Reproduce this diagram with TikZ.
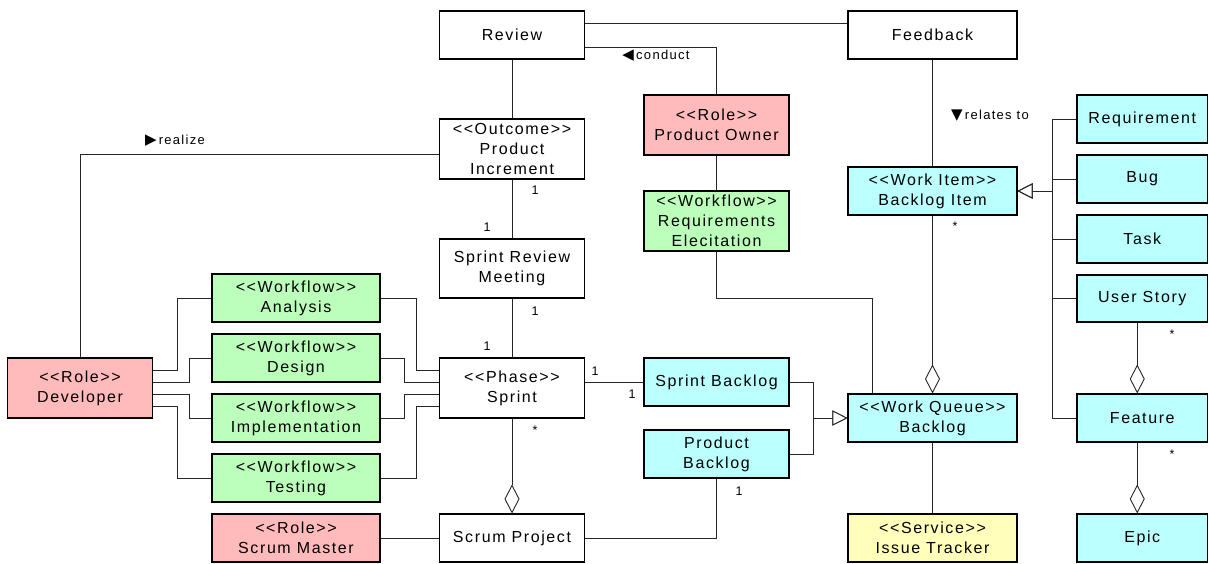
\documentclass[tikz,border=0pt]{standalone}
\usepackage{fontspec}
\newfontfamily\diafont{Liberation Sans}[LetterSpace=10]
\newfontfamily\glyphfont{DejaVu Sans}
\usetikzlibrary{calc,arrows.meta}
\definecolor{rolefill}{RGB}{255,187,187}
\definecolor{flowfill}{RGB}{187,255,187}
\definecolor{itemfill}{RGB}{187,255,255}
\definecolor{servfill}{RGB}{255,255,187}
\tikzset{
  box/.style={draw=black, line width=1.1pt, inner sep=0pt, align=center,
    font={\diafont\fontsize{16}{20}\selectfont}},
  role/.style={box, fill=rolefill},
  flow/.style={box, fill=flowfill},
  item/.style={box, fill=itemfill},
  serv/.style={box, fill=servfill},
  link/.style={draw=black!85, line width=0.9pt},
  agg/.style={link, -{Diamond[fill=white,length=29pt,width=15pt]}},
  gen/.style={link, -{Triangle[fill=white,length=15pt,width=15pt]}},
  mult/.style={inner sep=0pt, font={\diafont\fontsize{12.5}{14}\selectfont}},
  assoc/.style={inner sep=0pt, font={\diafont\fontsize{13}{15}\selectfont}},
  dirmark/.style={font={\glyphfont\fontsize{15}{15}\selectfont}},
}
\begin{document}
\begin{tikzpicture}[x=1pt,y=-1pt]
\useasboundingbox (0,0) rectangle (1209,563);

% centre column
\node[box, minimum width=145pt, minimum height=48pt] (review) at (512,35) {Review};
\node[box, minimum width=145pt, minimum height=60pt] (incr) at (512,149) {<<Outcome>>\\Product\\Increment};
\node[box, minimum width=145pt, minimum height=59pt] (srm) at (512,268.5) {Sprint Review\\Meeting};
\node[box, minimum width=145pt, minimum height=60pt] (sprint) at (512,388) {<<Phase>>\\Sprint};
\node[box, minimum width=145pt, minimum height=48pt] (sp) at (512,538) {Scrum Project};

% roles and workflows
\node[role, minimum width=145pt, minimum height=60pt] (dev) at (80,388) {<<Role>>\\Developer};
\node[flow, minimum width=168pt, minimum height=48pt] (analysis) at (296,298) {<<Workflow>>\\Analysis};
\node[flow, minimum width=168pt, minimum height=48pt] (design) at (296,358) {<<Workflow>>\\Design};
\node[flow, minimum width=168pt, minimum height=48pt] (impl) at (296,418) {<<Workflow>>\\Implementation};
\node[flow, minimum width=168pt, minimum height=48pt] (testing) at (296,478) {<<Workflow>>\\Testing};
\node[role, minimum width=168pt, minimum height=48pt] (sm) at (296,538) {<<Role>>\\Scrum Master};

\node[role, minimum width=145pt, minimum height=60pt] (po) at (716.5,125) {<<Role>>\\Product Owner};
\node[flow, minimum width=145pt, minimum height=60pt] (reqel) at (716.5,221) {<<Workflow>>\\Requirements\\Elecitation};
\node[item, minimum width=145pt, minimum height=48pt] (sbl) at (716.5,382) {Sprint Backlog};
\node[item, minimum width=145pt, minimum height=48pt] (pbl) at (716.5,454) {Product\\Backlog};

% backlog column
\node[box, minimum width=169pt, minimum height=48pt] (feedback) at (932.5,35) {Feedback};
\node[item, minimum width=169pt, minimum height=48pt] (bli) at (932.5,191) {<<Work Item>>\\Backlog Item};
\node[item, minimum width=169pt, minimum height=48pt] (bl) at (932.5,418) {<<Work Queue>>\\Backlog};
\node[serv, minimum width=169pt, minimum height=48pt] (it) at (932.5,538) {<<Service>>\\Issue Tracker};

% work item kinds
\node[item, minimum width=130.5pt, minimum height=48pt] (req) at (1142.25,119) {Requirement};
\node[item, minimum width=130.5pt, minimum height=48pt] (bug) at (1142.25,179) {Bug};
\node[item, minimum width=130.5pt, minimum height=48pt] (task) at (1142.25,239) {Task};
\node[item, minimum width=130.5pt, minimum height=47pt] (us) at (1142.25,298.5) {User Story};
\node[item, minimum width=130.5pt, minimum height=48pt] (feature) at (1142.25,418) {Feature};
\node[item, minimum width=130.5pt, minimum height=48pt] (epic) at (1142.25,538) {Epic};

% associations around the review
\draw[link] ($(review.east)+(0,-12)$) -- ($(feedback.west)+(0,-12)$);
\draw[link] ($(review.east)+(0,12)$) -| (po.north);
\node[assoc] (lconduct) at (656,56) {{\glyphfont\fontsize{15}{15}\selectfont ◀}\,conduct};
\draw[link] (review.south) -- (incr.north);
\draw[link] (incr.south) -- (srm.north);
\node[mult] (m1) at (535,190) {1};
\node[mult] (m2) at (487,227) {1};
\draw[link] (srm.south) -- (sprint.north);
\node[mult] (m3) at (535,311) {1};
\node[mult] (m4) at (487,346) {1};
\draw[link] (po.south) -- (reqel.north);
\draw[link] (reqel.south) -- ++(0,47) -| ($(bl.north west)+(25,0)$);

% developer realizes the increment
\draw[link] (dev.north) |- ($(incr.west)+(0,5.5)$);
\node[assoc] (lrealize) at (175,141) {{\glyphfont\fontsize{15}{15}\selectfont ▶}\,realize};

% developer to workflows
\draw[link] ($(dev.east)+(0,-18)$) -- ++(24,0) |- (analysis.west);
\draw[link] ($(dev.east)+(0,-6)$) -- ++(36,0) |- (design.west);
\draw[link] ($(dev.east)+(0,6)$) -- ++(36,0) |- (impl.west);
\draw[link] ($(dev.east)+(0,18)$) -- ++(24,0) |- (testing.west);

% workflows to sprint
\draw[link] (analysis.east) -- ++(36,0) |- ($(sprint.west)+(0,-18)$);
\draw[link] (design.east) -- ++(24,0) |- ($(sprint.west)+(0,-6)$);
\draw[link] (impl.east) -- ++(24,0) |- ($(sprint.west)+(0,6)$);
\draw[link] (testing.east) -- ++(36,0) |- ($(sprint.west)+(0,18)$);

% sprint and backlogs
\draw[link] (sbl.west -| sprint.east) -- (sbl.west);
\node[mult] (m5) at (595,371) {1};
\node[mult] (m6) at (632,394) {1};
\draw[gen] (sbl.east) -- ++(24,0) |- (bl.west);
\draw[gen] (pbl.east) -- ++(24,0) |- (bl.west);
\draw[agg] (sprint.south) -- (sp.north);
\node[mult] (m7) at (535,430) {*};
\draw[link] (sp.east) -| (pbl.south);
\node[mult] (m8) at (739,491) {1};
\draw[link] (sm.east) -- (sp.west);

% backlog column links
\draw[link] (feedback.south) -- (bli.north);
\node[assoc] (lrelates) at (990,116) {{\glyphfont\fontsize{15}{15}\selectfont ▼}\,relates to};
\draw[agg] (bli.south) -- (bl.north);
\node[mult] (m9) at (955,226) {*};
\draw[link] (bl.south) -- (it.north);

% kinds of backlog item
\draw[gen] (req.west) -- ++(-24,0) |- (bli.east);
\draw[gen] (bug.west) -- ++(-24,0) |- (bli.east);
\draw[gen] (task.west) -- ++(-24,0) |- (bli.east);
\draw[gen] (us.west) -- ++(-24,0) |- (bli.east);
\draw[gen] (feature.west) -- ++(-24,0) |- (bli.east);

% feature hierarchy
\draw[agg] ($(us.south)+(-5,0)$) -- ($(feature.north)+(-5,0)$);
\node[mult] (m10) at (1172,334) {*};
\draw[agg] ($(feature.south)+(-5,0)$) -- ($(epic.north)+(-5,0)$);
\node[mult] (m11) at (1172,454) {*};
\end{tikzpicture}
\end{document}
